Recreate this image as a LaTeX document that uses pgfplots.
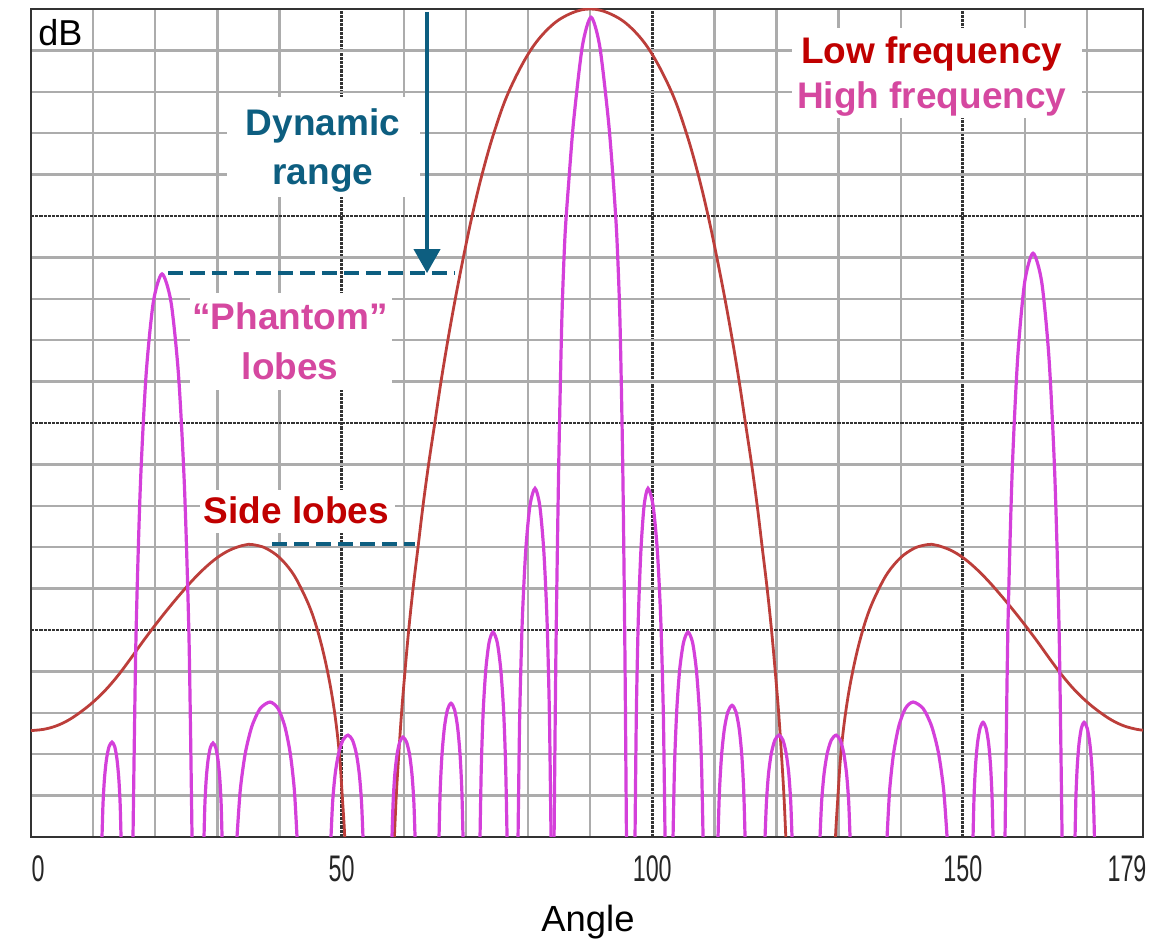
\documentclass[border=0pt]{standalone}
\usepackage{fontspec}
\setmainfont{Liberation Sans}
\usepackage{graphicx}
\usepackage{pgfplots}
\pgfplotsset{compat=1.18}
\usetikzlibrary{arrows.meta}
\definecolor{lowred}{RGB}{188,62,58}
\definecolor{hfmag}{RGB}{212,64,218}
\definecolor{darkredtxt}{RGB}{192,0,0}
\definecolor{pinktxt}{RGB}{213,72,160}
\definecolor{tealtxt}{RGB}{13,94,128}
\newcommand{\tl}[1]{\scalebox{0.63}[1]{#1}}
\pgfplotsset{
  lf/.style={lowred, line width=1.4pt, smooth, tension=0.6, mark=none},
  hf/.style={hfmag, line width=1.6pt, smooth, tension=0.45, mark=none},
}
\begin{document}
\begin{tikzpicture}
\useasboundingbox (-15.5pt,-51.5pt) rectangle (565pt,418.5pt);
\begin{axis}[
  scale only axis, width=556pt, height=414pt,
  xmin=0, xmax=179, ymin=0, ymax=20,
  xtick={0,50,100,150,179},
  xticklabels={{\hspace*{7pt}\tl{0}},\tl{50},\tl{100},\tl{150},{\tl{179}\hspace*{16pt}}},
  minor xtick={10,20,30,40,60,70,80,90,110,120,130,140,160,170},
  ytick={0,5,10,15,20}, yticklabels={},
  minor ytick={1,2,3,4,6,7,8,9,11,12,13,14,16,17,18,19},
  grid=both,
  minor grid style={gray!65, line width=1.15pt},
  major grid style={black!80, line width=1.4pt, dash pattern=on 1.6pt off 0.5pt},
  major tick length=0pt, minor tick length=0pt,
  axis line style={black!80, line width=1.3pt},
  xticklabel style={font=\fontsize{18.5}{20}\selectfont, text=black!85, yshift=-6pt},
  clip mode=individual,
]
% white label boxes
\fill[white] (axis cs:31.55,15.46) rectangle (axis cs:62.62,17.87);
\fill[white] (axis cs:25.6,10.8) rectangle (axis cs:58.1,13.14);
\fill[white] (axis cs:27.2,7.34) rectangle (axis cs:58.6,8.38);
\fill[white] (axis cs:122.5,17.37) rectangle (axis cs:169.2,19.54);

% low frequency
\addplot[lf] coordinates {(0,2.57) (2,2.6) (4,2.68) (6,2.82) (8,3.02) (10,3.26) (12,3.55) (14,3.9) (16,4.3) (18,4.72) (20,5.12) (22,5.5) (24,5.86) (26,6.2) (28,6.5) (30,6.75) (32,6.93) (34,7.04) (35,7.07) (36.5,7.04) (38,6.96) (40,6.75) (42,6.4) (43.5,6.0) (45,5.5) (46.2,4.95) (47.3,4.3) (48.3,3.55) (49.1,2.75) (49.7,1.9) (50.1,1.0) (50.4,0.3) (50.5,0)};
\addplot[lf] coordinates {(58.5,0) (58.8,1) (59.2,2) (59.65,3) (60.2,4) (60.8,5) (61.5,6) (62.3,7) (63.1,8) (64.0,9) (65.0,10) (66.0,11) (67.1,12) (68.3,13) (69.6,14) (71.0,15) (72.6,16) (74.5,17) (76.9,18) (80.4,19) (83.8,19.6) (87.0,19.9) (90,20) (93.0,19.9) (96.2,19.6) (99.6,19) (103.1,18) (105.5,17) (107.4,16) (109.0,15) (110.4,14) (111.7,13) (112.9,12) (114.0,11) (115.0,10) (116.0,9) (116.9,8) (117.7,7) (118.5,6) (119.2,5) (119.8,4) (120.35,3) (120.8,2) (121.2,1) (121.5,0)};
\addplot[lf] coordinates {(129.5,0) (129.6,0.3) (129.9,1.0) (130.3,1.9) (130.9,2.75) (131.7,3.55) (132.7,4.3) (133.8,4.95) (135,5.5) (136.5,6.0) (138,6.4) (140,6.75) (142,6.96) (143.5,7.04) (145,7.07) (146,7.04) (148,6.93) (150,6.75) (152,6.5) (154,6.2) (156,5.86) (158,5.5) (160,5.12) (162,4.72) (164,4.3) (166,3.9) (168,3.55) (170,3.26) (172,3.02) (174,2.82) (176,2.68) (178,2.6) (179,2.58)};

% high frequency lobes
\addplot[hf] coordinates {(11.43,0) (11.59,0.80) (11.83,1.42) (12.15,1.88) (12.56,2.18) (13.04,2.29) (13.48,2.18) (13.84,1.88) (14.13,1.42) (14.35,0.80) (14.49,0)};
\addplot[hf] coordinates {(16.42,0) (16.89,4.76) (17.59,8.43) (18.52,11.15) (19.69,12.92) (21.09,13.6) (22.54,12.92) (23.75,11.15) (24.71,8.43) (25.44,4.76) (25.92,0)};
\addplot[hf] coordinates {(27.85,0) (27.99,0.79) (28.21,1.41) (28.5,1.86) (28.87,2.16) (29.3,2.27) (29.74,2.16) (30.1,1.86) (30.39,1.41) (30.61,0.79) (30.75,0)};
\addplot[hf] coordinates {(33.16,0) (33.69,1.14) (34.49,2.02) (35.55,2.67) (36.88,3.10) (38.47,3.26) (39.78,3.10) (40.86,2.67) (41.73,2.02) (42.39,1.14) (42.82,0)};
\addplot[hf] coordinates {(48.29,0) (48.56,0.86) (48.97,1.53) (49.52,2.02) (50.21,2.34) (51.03,2.46) (51.75,2.34) (52.36,2.02) (52.84,1.53) (53.2,0.86) (53.44,0)};
\addplot[hf] coordinates {(58.11,0) (58.29,0.84) (58.55,1.49) (58.91,1.98) (59.35,2.29) (59.88,2.41) (60.46,2.29) (60.95,1.98) (61.34,1.49) (61.63,0.84) (61.82,0)};
\addplot[hf] coordinates {(65.68,0) (65.87,1.13) (66.16,2.0) (66.55,2.65) (67.03,3.07) (67.61,3.23) (68.19,3.07) (68.67,2.65) (69.06,2.0) (69.35,1.13) (69.54,0)};
\addplot[hf] coordinates {(72.28,0) (72.49,1.73) (72.8,3.07) (73.22,4.06) (73.74,4.70) (74.37,4.95) (75.05,4.70) (75.61,4.06) (76.07,3.07) (76.4,1.73) (76.63,0)};
\addplot[hf] coordinates {(78.4,0) (78.67,2.95) (79.08,5.22) (79.63,6.9) (80.31,8.0) (81.13,8.42) (81.9,8.0) (82.55,6.9) (83.07,5.22) (83.45,2.95) (83.71,0)};
\addplot[hf] coordinates {(84.2,0) (84.5,4.5) (84.95,9) (85.45,12.5) (85.95,14.5) (86.55,15.8) (87.35,17.3) (88.75,19.1) (90.15,19.8) (91.55,19.1) (92.95,17.3) (93.75,15.8) (94.3,14.5) (94.8,12.5) (95.25,9) (95.6,4.5) (95.85,0)};
\addplot[hf] coordinates {(97.23,0) (97.44,2.95) (97.75,5.22) (98.17,6.9) (98.69,8.0) (99.32,8.42) (100.14,8.0) (100.83,6.9) (101.38,5.22) (101.79,2.95) (102.06,0)};
\addplot[hf] coordinates {(103.35,0) (103.59,1.73) (103.95,3.07) (104.43,4.06) (105.04,4.70) (105.76,4.95) (106.49,4.70) (107.09,4.06) (107.58,3.07) (107.94,1.73) (108.18,0)};
\addplot[hf] coordinates {(110.59,0) (110.82,1.11) (111.16,1.97) (111.61,2.61) (112.17,3.02) (112.85,3.18) (113.48,3.02) (114.0,2.61) (114.42,1.97) (114.73,1.11) (114.94,0)};
\addplot[hf] coordinates {(118.16,0) (118.39,0.86) (118.72,1.53) (119.17,2.02) (119.74,2.34) (120.41,2.46) (121.04,2.34) (121.56,2.02) (121.98,1.53) (122.29,0.86) (122.5,0)};
\addplot[hf] coordinates {(127.01,0) (127.27,0.86) (127.66,1.53) (128.17,2.02) (128.82,2.34) (129.59,2.46) (130.27,2.34) (130.83,2.02) (131.28,1.53) (131.62,0.86) (131.84,0)};
\addplot[hf] coordinates {(137.8,0) (138.22,1.14) (138.85,2.02) (139.68,2.67) (140.73,3.10) (141.98,3.26) (143.62,3.10) (144.99,2.67) (146.09,2.02) (146.91,1.14) (147.46,0)};
\addplot[hf] coordinates {(151.64,0) (151.80,0.97) (152.04,1.72) (152.36,2.27) (152.77,2.63) (153.25,2.77) (153.73,2.63) (154.14,2.27) (154.46,1.72) (154.7,0.97) (154.86,0)};
\addplot[hf] coordinates {(156.79,0) (157.24,4.94) (157.92,8.74) (158.82,11.56) (159.95,13.4) (161.3,14.1) (162.7,13.4) (163.87,11.56) (164.8,8.74) (165.5,4.94) (165.97,0)};
\addplot[hf] coordinates {(168.06,0) (168.2,0.97) (168.42,1.72) (168.71,2.27) (169.08,2.63) (169.51,2.77) (170.01,2.63) (170.43,2.27) (170.76,1.72) (171.01,0.97) (171.18,0)};

% annotations
\draw[tealtxt, line width=2pt, -{Triangle[width=13pt,length=12pt]}] (axis cs:63.75,19.93) -- (axis cs:63.75,13.62);
\draw[tealtxt, line width=2pt, dash pattern=on 7.5pt off 3.5pt] (axis cs:22.05,13.62) -- (axis cs:68.25,13.62);
\draw[tealtxt, line width=2pt, dash pattern=on 7.5pt off 3.5pt] (axis cs:38.8,7.08) -- (axis cs:61.8,7.08);

\node[font=\fontsize{18}{20}\selectfont, anchor=base west, inner sep=0pt] at (axis cs:1.13,19.13) {dB};
\node[font=\bfseries\fontsize{18.5}{24.5}\selectfont, text=tealtxt, align=center, inner sep=0pt] at (axis cs:47.0,16.59) {Dynamic\\range};
\node[font=\bfseries\fontsize{18.5}{25}\selectfont, text=pinktxt, align=center, inner sep=0pt] at (axis cs:41.7,11.97) {“Phantom”\\lobes};
\node[font=\bfseries\fontsize{18.5}{22}\selectfont, text=darkredtxt, inner sep=0pt] at (axis cs:42.74,7.89) {Side lobes};
\node[font=\bfseries\fontsize{18.5}{22.5}\selectfont, align=center, inner sep=0pt] at (axis cs:145.0,18.38) {\textcolor{darkredtxt}{Low frequency}\\\textcolor{pinktxt}{High frequency}};
\end{axis}
\node[font=\fontsize{18.2}{20}\selectfont, anchor=base, inner sep=0pt] at (278.5pt,-47.5pt) {Angle};
\end{tikzpicture}
\end{document}
